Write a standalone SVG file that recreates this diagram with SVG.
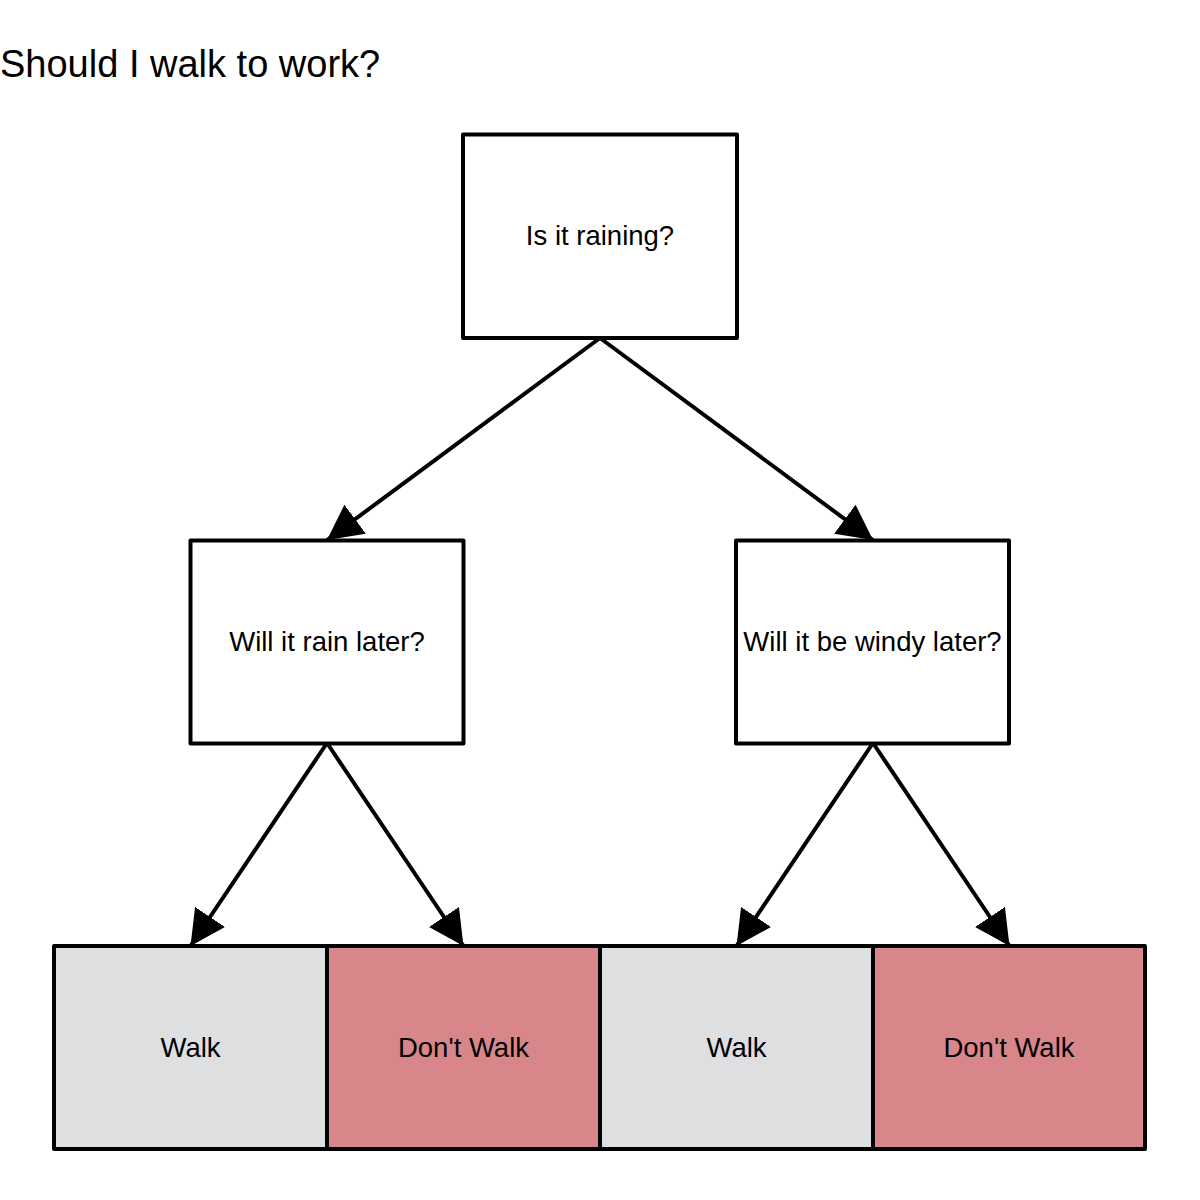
<svg xmlns="http://www.w3.org/2000/svg" width="1200" height="1200" viewBox="0 0 1200 1200">
<style>
  .box { stroke: #000; stroke-width: 4; stroke-linejoin: round; }
  .q { fill: #fff; }
  .walk { fill: #dedfe1; }
  .dont { fill: #d9868a; }
  .lbl { font-family: "Liberation Sans", Arial, sans-serif; font-size: 27.5px; fill: #000; text-anchor: middle; }
  .title { font-family: "Liberation Sans", Arial, sans-serif; font-size: 38px; fill: #000; }
  .edge { stroke: #000; stroke-width: 4; fill: none; marker-end: url(#arrow); }
</style>
<defs>
  <marker id="arrow" markerUnits="userSpaceOnUse" viewBox="0 0 35 36" refX="35" refY="18" markerWidth="35" markerHeight="36" orient="auto">
    <path d="M0,0 L35,18 L0,36 z" fill="#000"/>
  </marker>
</defs>
<rect width="1200" height="1200" fill="#fff"/>
<text class="title" x="0" y="77">Should I walk to work?</text>
<g id="connectors">
  <line class="edge" x1="600" y1="338" x2="327" y2="540"/>
  <line class="edge" x1="600" y1="338" x2="873" y2="540"/>
  <line class="edge" x1="327" y1="743" x2="190.5" y2="946"/>
  <line class="edge" x1="327" y1="743" x2="463.5" y2="946"/>
  <line class="edge" x1="873" y1="743" x2="736.5" y2="946"/>
  <line class="edge" x1="873" y1="743" x2="1009.5" y2="946"/>
</g>
<g id="n-raining">
  <rect class="box q" x="463" y="134.5" width="274" height="203.5"/>
  <text class="lbl" x="600" y="245">Is it raining?</text>
</g>
<g id="n-rain-later">
  <rect class="box q" x="190.5" y="540.5" width="273" height="203"/>
  <text class="lbl" x="327" y="650.5">Will it rain later?</text>
</g>
<g id="n-windy-later">
  <rect class="box q" x="736" y="540.5" width="273" height="203"/>
  <text class="lbl" x="872.5" y="650.5">Will it be windy later?</text>
</g>
<g id="n-walk-1">
  <rect class="box walk" x="54" y="946" width="273" height="203"/>
  <text class="lbl" x="190.5" y="1056.5">Walk</text>
</g>
<g id="n-dont-1">
  <rect class="box dont" x="327" y="946" width="273" height="203"/>
  <text class="lbl" x="463.5" y="1056.5">Don't Walk</text>
</g>
<g id="n-walk-2">
  <rect class="box walk" x="600" y="946" width="273" height="203"/>
  <text class="lbl" x="736.5" y="1056.5">Walk</text>
</g>
<g id="n-dont-2">
  <rect class="box dont" x="873" y="946" width="272" height="203"/>
  <text class="lbl" x="1009" y="1056.5">Don't Walk</text>
</g>
</svg>
